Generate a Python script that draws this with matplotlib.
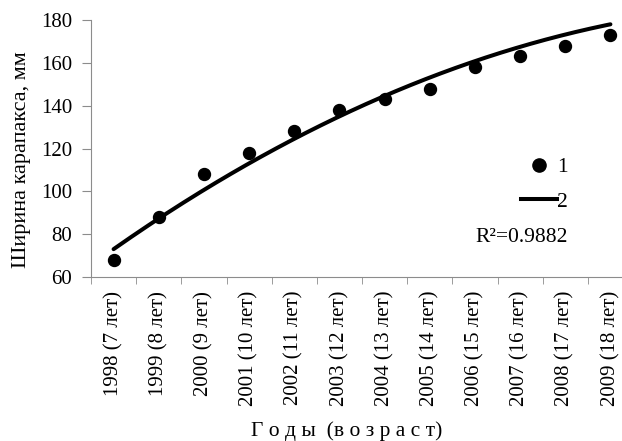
import numpy as np
import matplotlib.pyplot as plt
from matplotlib.lines import Line2D

plt.rcParams['font.family'] = ['Liberation Serif', 'DejaVu Serif']

years = ['1998 (7 лет)', '1999 (8 лет)', '2000 (9 лет)', '2001 (10 лет)',
         '2002 (11 лет)', '2003 (12 лет)', '2004 (13 лет)', '2005 (14 лет)',
         '2006 (15 лет)', '2007 (16 лет)', '2008 (17 лет)', '2009 (18 лет)']
width_mm = [68, 88, 108, 118, 128, 138, 143, 148, 158, 163, 168, 173]
# полиномиальный тренд 2-й степени: c2*x^2 + c1*x + c0
trend_coef = [-0.4758, 15.73, 57.75]
r2_text = 'R²=0.9882'

x = np.arange(1, len(years) + 1)
xs = np.linspace(1, len(years), 200)

fig = plt.figure(figsize=(6.22, 4.41), dpi=100)
ax = fig.add_axes([91 / 622, 1 - 277 / 441, 542 / 622, 257 / 441])

ax.plot(x, width_mm, 'o', color='black', markersize=8.6, zorder=3)
ax.plot(xs, np.polyval(trend_coef, xs), color='black', lw=2.9,
        solid_capstyle='round')

ax.set_xlim(0.5, len(years) + 0.5)
ax.set_ylim(60, 180)
ax.set_yticks(range(60, 181, 20))
ax.set_xticks(x)
ax.set_xticklabels(years, rotation=90, fontsize=15)
ax.set_xticks(np.arange(0.5, len(years) + 1), minor=True)
ax.tick_params(axis='x', which='major', length=0, pad=10)
ax.tick_params(axis='x', which='minor', length=5, color='#8c8c8c')
ax.tick_params(axis='y', length=6.5, color='#8c8c8c', labelsize=15, pad=7)

for s in ['top', 'right']:
    ax.spines[s].set_visible(False)
for s in ['left', 'bottom']:
    ax.spines[s].set_color('#8c8c8c')

fig.text(22 / 622, 1 - 160 / 441, 'Ширина карапакса, мм', rotation=90,
         ha='center', va='center', fontsize=16)
fig.text(347 / 622, 1 - 431 / 441, 'Г о д ы  (в о з р а с т)',
         ha='center', va='center', fontsize=15.5)

handles = [Line2D([], [], marker='o', color='black', ls='none', markersize=9.5),
           Line2D([], [], color='black', lw=2.9)]
leg = fig.legend(handles, ['1', '2'], loc='upper right', frameon=False,
                 bbox_to_anchor=(587 / 622, 1 - 138 / 441), fontsize=15.5,
                 handlelength=1.67, handletextpad=0.0, labelspacing=0.65)
fig.text(568 / 622, 1 - 237 / 441, r2_text, ha='right', va='center',
         fontsize=15.5)

fig.savefig('out.png', dpi=100)
